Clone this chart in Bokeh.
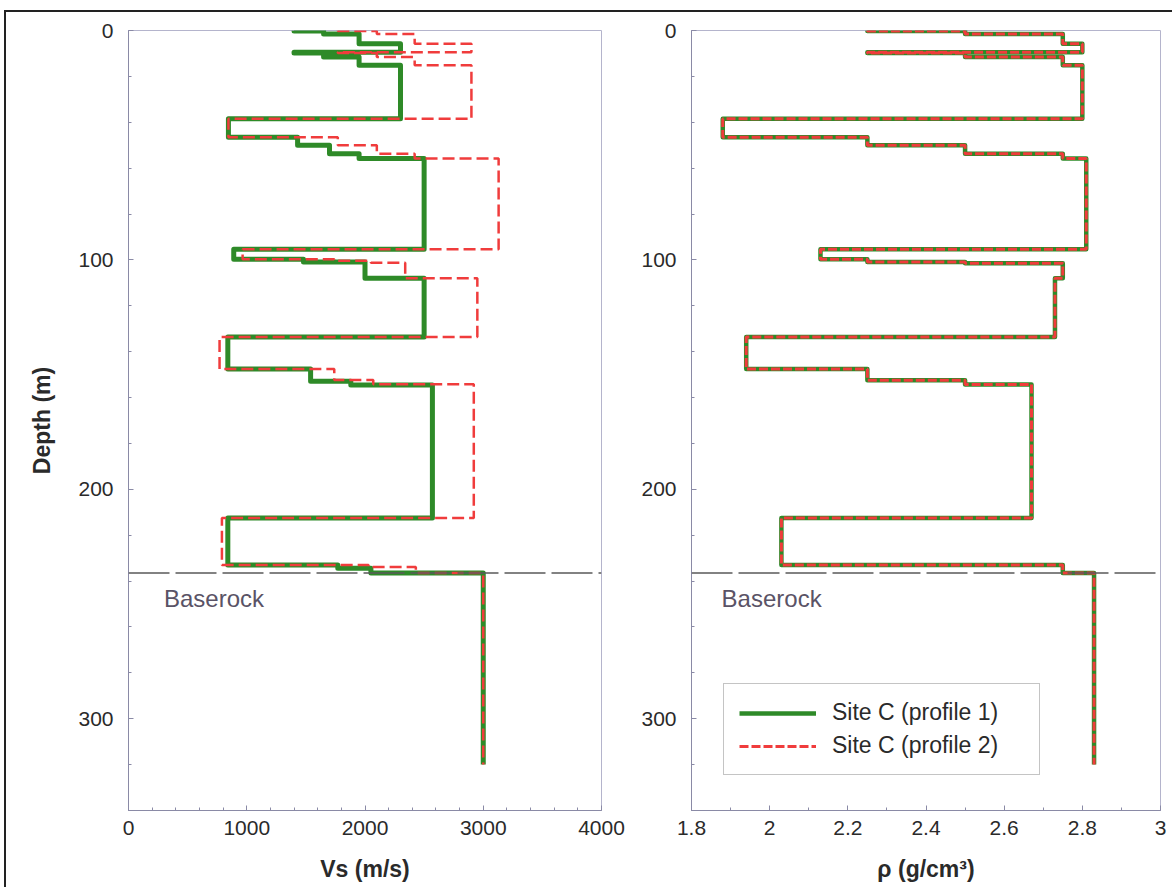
from bokeh.plotting import figure
from bokeh.layouts import row
from bokeh.models import (Range1d, FixedTicker, Span, Legend, LegendItem,
                          CustomJSTickFormatter, Label)
from bokeh.embed import file_html
from bokeh.resources import INLINE

# ---- layered profiles: depth of each layer top (m) and its value ----
vs1_top = [0, 0.2, 1.5, 5.8, 9.5, 9.8, 11.6, 15.2, 38.5, 46.5, 50.0, 53.7, 55.8,
           95.4, 99.7, 100.9, 108.0, 133.6, 147.6, 152.9, 154.5, 212.5, 233.0,
           234.4, 236.5]
vs1 = [1400, 1650, 1950, 2300, 1400, 1650, 1950, 2300, 845, 1430, 1700, 1950, 2500,
       890, 1480, 2000, 2500, 840, 1540, 1880, 2570, 840, 1770, 2050, 3000]

vs2_top = [0, 0.2, 1.5, 5.8, 9.5, 9.8, 11.6, 15.2, 38.5, 46.5, 50.0, 53.7, 55.8,
           95.4, 99.7, 100.4, 101.2, 108.0, 133.6, 147.6, 152.4, 154.2, 212.5,
           233.0, 233.9, 236.5]
vs2 = [1770, 2100, 2420, 2900, 1770, 2100, 2420, 2900, 845, 1770, 2100, 2420, 3130,
       965, 1740, 2050, 2340, 2950, 770, 1740, 2070, 2920, 790, 2030, 2430, 3000]

rho_top = [0, 0.2, 1.5, 5.8, 9.5, 9.8, 11.6, 15.2, 38.5, 46.5, 50.0, 53.7, 55.8,
           95.4, 99.7, 100.9, 101.5, 108.0, 133.6, 147.6, 152.5, 154.3, 212.5,
           233.0, 236.5]
rho = [2.25, 2.50, 2.75, 2.80, 2.25, 2.50, 2.75, 2.80, 1.88, 2.25, 2.50, 2.75, 2.81,
       2.13, 2.25, 2.50, 2.75, 2.73, 1.94, 2.25, 2.50, 2.67, 2.03, 2.75, 2.83]

profile_bottom = 320.0
baserock_depth = 236.5

depth_ticks = [0, 100, 200, 300]
vs_ticks = [0, 1000, 2000, 3000, 4000]
rho_ticks = [1.8, 2.0, 2.2, 2.4, 2.6, 2.8, 3.0]

legend_labels = ["Site C (profile 1)", "Site C (profile 2)"]

FONT = "Liberation Sans"
GREEN = "#2e8a28"
RED = "#f03c3c"
AXIS = "#8a8aa6"
FRAME = "#b4b4cc"
TEXT = "#2a2a2a"


def step_path(tops, values, bottom):
    """Turn layer tops/values into the (x, y) vertices of a step profile."""
    bottoms = list(tops[1:]) + [bottom]
    xs, ys = [], []
    for t, b, v in zip(tops, bottoms, values):
        xs += [v, v]
        ys += [t, b]
    return xs, ys


def make_panel(width, left, right, x_range, xticks, xminor, xlabel, ylabel):
    p = figure(width=width, height=875, x_range=x_range,
               y_range=Range1d(340, 0), output_backend="svg",
               toolbar_location=None, min_border_left=left,
               min_border_right=right, min_border_top=18,
               min_border_bottom=77)
    p.grid.visible = False
    p.outline_line_color = FRAME
    p.outline_line_width = 1
    p.background_fill_color = "white"
    p.border_fill_color = "white"

    p.yaxis.ticker = FixedTicker(ticks=depth_ticks,
                                 minor_ticks=list(range(0, 341, 20)))
    p.xaxis.ticker = FixedTicker(ticks=xticks, minor_ticks=xminor)
    p.xaxis.formatter = CustomJSTickFormatter(
        code="return String(Number(tick.toFixed(1)));")

    for ax in (p.xaxis[0], p.yaxis[0]):
        ax.axis_line_color = AXIS
        ax.major_tick_line_color = AXIS
        ax.minor_tick_line_color = AXIS
        ax.major_tick_in = 5
        ax.major_tick_out = 0
        ax.minor_tick_in = 3
        ax.minor_tick_out = 0
        ax.major_label_text_font = FONT
        ax.major_label_text_font_size = "21px"
        ax.major_label_text_color = TEXT
        ax.axis_label_text_font = FONT
        ax.axis_label_text_font_size = "23px"
        ax.axis_label_text_font_style = "bold"
        ax.axis_label_text_color = TEXT
    p.xaxis.major_label_standoff = 10
    p.xaxis.axis_label_standoff = 18
    p.yaxis.major_label_standoff = 15
    p.yaxis.axis_label_standoff = 20
    p.xaxis.axis_label = xlabel
    if ylabel:
        p.yaxis.axis_label = ylabel

    p.add_layout(Span(location=baserock_depth, dimension="width",
                      line_color="#5a5a5a", line_width=1.5,
                      line_dash="41 6"))
    return p


# ---- shear-wave velocity panel ----
p1 = make_panel(632, 122, 37, Range1d(0, 4000), vs_ticks,
                list(range(0, 4001, 200)), "Vs (m/s)", "Depth (m)")
x1, y1 = step_path(vs1_top, vs1, profile_bottom)
x2, y2 = step_path(vs2_top, vs2, profile_bottom)
p1.line(x1, y1, line_color=GREEN, line_width=5, line_join="round")
p1.line(x2, y2, line_color=RED, line_width=2.5, line_dash="12 5")
p1.add_layout(Label(x=300, y=247.5, text="Baserock", text_font=FONT,
                    text_font_size="24px", text_color="#5a5366",
                    text_baseline="middle", text_align="left"))

# ---- density panel ----
rho_minor = [round(1.8 + 0.1 * i, 1) for i in range(13)]
p2 = make_panel(534, 50, 12, Range1d(1.8, 3.0), rho_ticks, rho_minor,
                "\u03c1 (g/cm\u00b3)", None)
xr, yr = step_path(rho_top, rho, profile_bottom)
g_rho = p2.line(xr, yr, line_color=GREEN, line_width=4.5, line_join="round")
r_rho = p2.line(xr, yr, line_color=RED, line_width=3, line_dash="9 3")
p2.add_layout(Label(x=1.877, y=247.5, text="Baserock", text_font=FONT,
                    text_font_size="24px", text_color="#5a5366",
                    text_baseline="middle", text_align="left"))

legend = Legend(items=[LegendItem(label=legend_labels[0], renderers=[g_rho]),
                       LegendItem(label=legend_labels[1], renderers=[r_rho])],
                location=(32, 35), orientation="vertical")
legend.border_line_color = "#8a8a8a"
legend.border_line_width = 1
legend.background_fill_color = "white"
legend.background_fill_alpha = 1
legend.label_text_font = FONT
legend.label_text_font_size = "23px"
legend.label_text_color = TEXT
legend.glyph_width = 77
legend.glyph_height = 22
legend.label_height = 22
legend.label_width = 192
legend.label_standoff = 16
legend.padding = 15
legend.spacing = 6
legend.margin = 0
p2.add_layout(legend)

layout = row(p1, p2, styles={"border-top": "2px solid #222",
                             "border-left": "2px solid #222",
                             "margin-top": "10px", "margin-left": "4px"})

with open("out.html", "w") as f:
    f.write(file_html(layout, INLINE))
